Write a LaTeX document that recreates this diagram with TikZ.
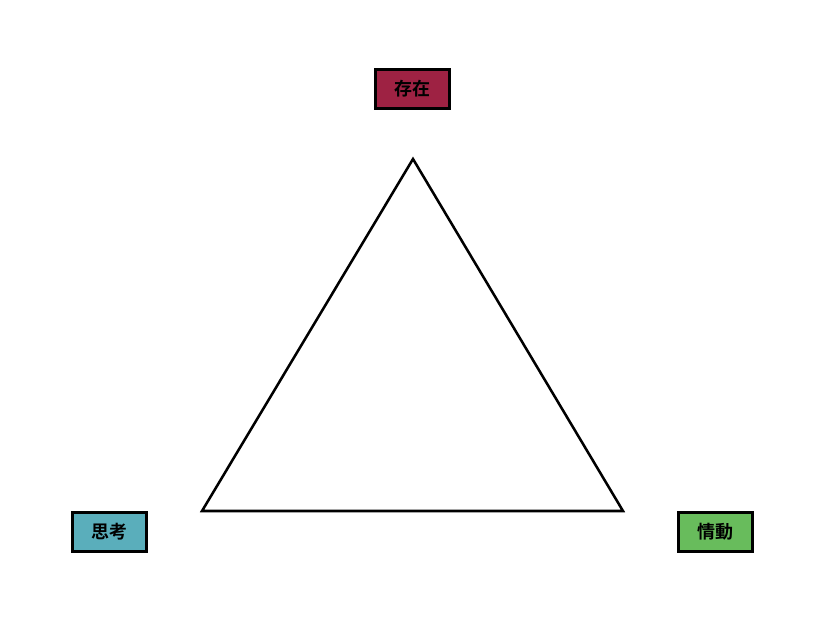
\documentclass[tikz,border=0pt]{standalone}
\usepackage{fontspec}
\newfontfamily\cjk{Noto Sans CJK JP}[BoldFont={* Bold}]
\definecolor{cExist}{HTML}{9E2243}
\definecolor{cThink}{HTML}{5AAEBB}
\definecolor{cEmo}{HTML}{68BC5C}
\begin{document}
\begin{tikzpicture}[x=0.75pt,y=-0.75pt,
  lab/.style={draw=black,line width=2.4pt,minimum width=74*0.75pt,minimum height=39*0.75pt,inner sep=0pt,font=\cjk\bfseries\fontsize{13.5}{15}\selectfont},
  tri/.style={draw=black,line width=1.9pt,line join=miter}]
\useasboundingbox (0,0) rectangle (822,623);
\node[lab,fill=cExist] (exist) at (412.5,89) {存在};
\node[lab,fill=cThink] (think) at (109.5,532) {思考};
\node[lab,fill=cEmo] (emo) at (715.5,532) {情動};
\coordinate (top) at (413,159);
\coordinate (bl) at (202,511);
\coordinate (br) at (623,511);
\draw[tri] (top) -- (bl) -- (br) -- cycle;
\end{tikzpicture}
\end{document}
